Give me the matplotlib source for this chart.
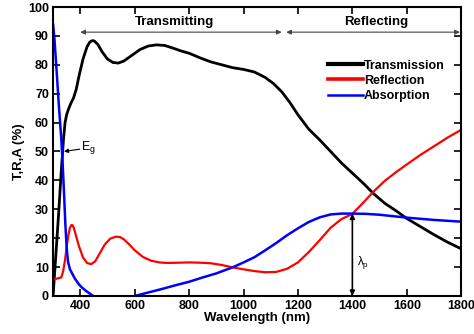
import numpy as np
import matplotlib
matplotlib.use("Agg")
import matplotlib.pyplot as plt

plt.rcParams['font.family'] = ['Liberation Sans', 'DejaVu Sans']
plt.rcParams['mathtext.fontset'] = 'custom'
plt.rcParams['mathtext.rm'] = 'Liberation Sans'
plt.rcParams['mathtext.it'] = 'Liberation Sans'

# Transmission spectrum (%)
wl_t = [300, 310, 320, 330, 338, 344, 350, 358, 366, 375, 385, 395, 410, 425, 435, 445, 452, 465,
        480, 500, 520, 540, 560, 590, 620, 650, 680, 710, 740, 770, 800, 840, 880,
        920, 960, 1000, 1040, 1080, 1110, 1140, 1170, 1200, 1240, 1280, 1320, 1360,
        1400, 1440, 1480, 1520, 1560, 1600, 1650, 1700, 1750, 1800]
trans = [0, 14, 28, 43, 54, 60, 62.8, 65, 66.8, 68.5, 71.5, 76, 82, 86.3, 87.9, 88.4, 88.2, 87,
         84.5, 82, 80.8, 80.6, 81.3, 83.3, 85.3, 86.5, 86.9, 86.7, 85.8, 84.8, 84, 82.4, 81,
         80, 79, 78.4, 77.5, 75.6, 73.5, 70.7, 67, 62.7, 57.7, 54, 50, 46,
         42.5, 39, 35.2, 32, 29.5, 26.8, 24, 21.2, 18.6, 16.3]

# Reflection spectrum (%)
wl_r = [300, 315, 330, 337, 344, 350, 356, 362, 367, 371, 376, 383, 395, 410, 425, 440, 455, 470, 490,
        510, 530, 545, 560, 580, 600, 630, 660, 690, 720, 760, 800, 840, 880, 920,
        960, 1000, 1040, 1080, 1120, 1160, 1200, 1240, 1280, 1320, 1360, 1400, 1440,
        1480, 1520, 1560, 1600, 1650, 1700, 1750, 1800]
refl = [5.9, 6, 6.4, 8.5, 12.5, 17, 21, 23.6, 24.5, 24.5, 23.6, 21.3, 17.2, 13.3, 11.4, 11, 12, 14.5, 17.8,
        19.8, 20.5, 20.4, 19.6, 17.8, 15.8, 13.5, 12.2, 11.6, 11.4, 11.5, 11.6, 11.5, 11.3, 10.7,
        9.9, 9.2, 8.6, 8.2, 8.3, 9.4, 11.6, 15.2, 19.3, 23.6, 26.6, 28.4, 32.3,
        36.3, 39.9, 42.8, 45.5, 48.8, 51.8, 54.8, 57.5]

# Absorption spectrum (%), gap where it sits on zero
wl_a = [300, 305, 310, 315, 320, 325, 330, 335, 340, 345, 350, 355, 362, 370, 380,
        395, 405, 420, 435, 447, 455, 595, 601, 650, 700, 750, 800, 850, 900, 960,
        1000, 1040, 1080, 1120, 1160, 1200, 1240, 1280, 1320, 1360, 1400, 1450, 1500,
        1550, 1600, 1650, 1700, 1750, 1800]
absn = [94, 89, 82, 75, 67.5, 61, 54.5, 46, 36, 25, 16.5, 11.8, 9.2, 7.8, 6,
        4, 3, 1.8, 0.8, 0, np.nan, np.nan, 0, 1.2, 2.4, 3.7, 4.9, 6.4, 7.8, 9.9,
        11.6, 13.4, 15.8, 18.3, 21, 23.4, 25.6, 27.2, 28.2, 28.5, 28.5, 28.4, 28.1,
        27.6, 27.1, 26.7, 26.3, 26, 25.7]

xticks = [400, 600, 800, 1000, 1200, 1400, 1600, 1800]
yticks = [0, 10, 20, 30, 40, 50, 60, 70, 80, 90, 100]

fig = plt.figure(figsize=(4.74, 3.34), dpi=100)
ax = fig.add_axes([0.112, 0.114, 0.861, 0.865])

ax.plot(wl_t, trans, color='black', lw=2.0, label='Transmission')
ax.plot(wl_r, refl, color='#ff0000', lw=1.6, label='Reflection')
ax.plot(wl_a, absn, color='#0000ff', lw=1.8, label='Absorption')

ax.set_xlim(300, 1800)
ax.set_ylim(0, 100)
ax.set_xticks(xticks)
ax.set_yticks(yticks)
ax.tick_params(direction='in', length=5, width=1.2, top=True, right=True,
               labelsize=9, pad=3)
for lab in ax.get_xticklabels() + ax.get_yticklabels():
    lab.set_fontweight('bold')
for sp in ax.spines.values():
    sp.set_linewidth(1.5)

ax.set_xlabel('Wavelength (nm)', fontsize=9.5, fontweight='bold', labelpad=0)
ax.set_ylabel('T,R,A (%)', fontsize=9.5, fontweight='bold', labelpad=2)

# region arrows
arr = dict(arrowstyle='<|-|>', color='#444444', lw=0.8, mutation_scale=7,
           shrinkA=0, shrinkB=0)
ax.annotate('', xy=(400, 91.3), xytext=(1140, 91.3), arrowprops=arr)
ax.annotate('', xy=(1157, 91.3), xytext=(1795, 91.3), arrowprops=arr)
ax.text(748, 94.8, 'Transmitting', ha='center', va='center', fontsize=9.5,
        fontweight='bold')
ax.text(1487, 94.8, 'Reflecting', ha='center', va='center', fontsize=9.5,
        fontweight='bold')

# band gap marker
ax.annotate('', xy=(340, 50), xytext=(398, 50.8),
            arrowprops=dict(arrowstyle='-|>', color='black', lw=0.8,
                            mutation_scale=6, shrinkA=0, shrinkB=0))
ax.text(402, 51.5, r'$\mathregular{E_g}$', fontsize=9, va='center', ha='left')

# plasma wavelength marker
ax.annotate('', xy=(1400, 28.5), xytext=(1400, 0),
            arrowprops=dict(arrowstyle='<|-|>', color='black', lw=1.2,
                            mutation_scale=7, shrinkA=0, shrinkB=0))
ax.text(1418, 11.5, r'$\mathregular{\lambda_p}$', fontsize=8.5, va='center', ha='left')

leg = ax.legend(loc='upper left', bbox_to_anchor=(0.662, 0.835), frameon=False,
                fontsize=9, handlelength=2.75, handletextpad=0.1,
                labelspacing=0.25, borderaxespad=0)
for txt in leg.get_texts():
    txt.set_fontweight('bold')
for line, w in zip(leg.get_lines(), [3.0, 2.6, 1.8]):
    line.set_linewidth(w)

fig.savefig('out.png', dpi=100)
